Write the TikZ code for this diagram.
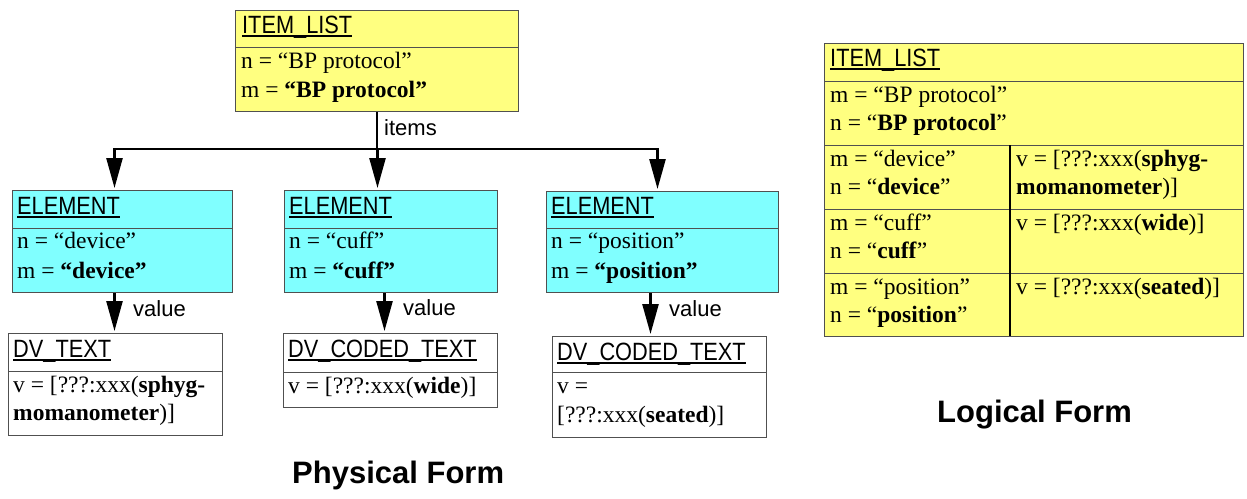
\documentclass[tikz,border=0pt]{standalone}
\usepackage{fontspec}
\setmainfont{Liberation Serif}
\newfontfamily\helv{Liberation Sans}
\newfontfamily\helvn[FakeStretch=0.87]{Liberation Sans}
\usetikzlibrary{arrows.meta}
\definecolor{ylw}{HTML}{FFFF80}
\definecolor{cyn}{HTML}{80FFFF}
\definecolor{edge}{HTML}{505050}
\tikzset{
  box/.style={draw=edge, line width=1pt, rectangle, inner sep=0pt, anchor=north west},
  ybox/.style={box, fill=ylw},
  cbox/.style={box, fill=cyn},
  wbox/.style={box, fill=white},
  divline/.style={draw=edge, line width=1pt},
  ttl/.style={anchor=base west, inner sep=0pt, font=\fontsize{25}{25}\helvn},
  txt/.style={anchor=base west, inner sep=0pt, font=\fontsize{23.5}{28}\selectfont},
  lbl/.style={anchor=base west, inner sep=0pt, font=\fontsize{22}{22}\helv},
  big/.style={anchor=base west, inner sep=0pt, font=\fontsize{31}{31}\helv\bfseries},
  arr/.style={line width=2.5pt, -{Triangle[length=30pt,width=16pt]}, shorten >=2pt},
  conn/.style={line width=2.5pt},
}
\newcommand{\ul}[1]{\setbox0\hbox{#1}\rlap{\rule[-4pt]{\wd0}{1.8pt}}\box0}
\begin{document}
\begin{tikzpicture}[x=1pt,y=-1pt]
\useasboundingbox (0,0) rectangle (1247,498);

% ---------- Physical form ----------
% ITEM_LIST
\node[ybox, minimum width=283pt, minimum height=101pt] (il) at (235,10) {};
\draw[divline] (235,47) -- (518,47);
\node[ttl] (ilt) at (242,33) {\ul{ITEM\_LIST}};
\node[txt] (iln) at (241,68) {n = “BP protocol”};
\node[txt] (ilm) at (241,97) {m = \textbf{“BP protocol”}};

% ELEMENTs
\node[cbox, minimum width=220pt, minimum height=102pt] (e1) at (12,190) {};
\draw[divline] (12,228) -- (232,228);
\node[ttl] (e1t) at (17,214) {\ul{ELEMENT}};
\node[txt] (e1n) at (17,248) {n = “device”};
\node[txt] (e1m) at (17,278) {m = \textbf{“device”}};

\node[cbox, minimum width=213pt, minimum height=102pt] (e2) at (284,190) {};
\draw[divline] (284,228) -- (497,228);
\node[ttl] (e2t) at (289,214) {\ul{ELEMENT}};
\node[txt] (e2n) at (289,248) {n = “cuff”};
\node[txt] (e2m) at (289,278) {m = \textbf{“cuff”}};

\node[cbox, minimum width=232pt, minimum height=101pt] (e3) at (546,191) {};
\draw[divline] (546,228) -- (778,228);
\node[ttl] (e3t) at (551,214) {\ul{ELEMENT}};
\node[txt] (e3n) at (551,248) {n = “position”};
\node[txt] (e3m) at (551,278) {m = \textbf{“position”}};

% DV boxes
\node[wbox, minimum width=214pt, minimum height=102pt] (d1) at (8,333) {};
\draw[divline] (8,371) -- (222,371);
\node[ttl] (d1t) at (13,357) {\ul{DV\_TEXT}};
\node[txt] (d1a) at (13,392) {v = [???:xxx(\textbf{sphyg-}};
\node[txt] (d1b) at (13,420) {\textbf{momanometer})]};

\node[wbox, minimum width=214pt, minimum height=74pt] (d2) at (283,333) {};
\draw[divline] (283,372) -- (497,372);
\node[ttl] (d2t) at (288,357) {\ul{DV\_CODED\_TEXT}};
\node[txt] (d2a) at (288,393) {v = [???:xxx(\textbf{wide})]};

\node[wbox, minimum width=214pt, minimum height=101pt] (d3) at (552,336) {};
\draw[divline] (552,372) -- (766,372);
\node[ttl] (d3t) at (557,360) {\ul{DV\_CODED\_TEXT}};
\node[txt] (d3a) at (557,393) {v =};
\node[txt] (d3b) at (557,422) {[???:xxx(\textbf{seated})]};

% connectors
\coordinate (bus) at (377,149);
\draw[conn] (il.south -| bus) -- (bus);
\draw[arr] (bus) -| ([xshift=-8pt]e1.north);
\draw[arr] (bus) -| ([xshift=-13.5pt]e2.north);
\draw[arr] (bus) -| ([xshift=-5pt]e3.north);
\node[lbl] (items) at (384,135) {items};

\draw[arr] ([xshift=-8pt]e1.south) -- ([xshift=-8pt]e1.south |- d1.north);
\draw[arr] ([xshift=-6.5pt]e2.south) -- ([xshift=-6.5pt]e2.south |- d2.north);
\draw[arr] ([xshift=-12pt]e3.south) -- ([xshift=-12pt]e3.south |- d3.north);
\node[lbl] (v1) at (133,316) {value};
\node[lbl] (v2) at (403,315) {value};
\node[lbl] (v3) at (669,316) {value};

\node[big] (pf) at (292,483) {Physical Form};

% ---------- Logical form ----------
\node[ybox, minimum width=419pt, minimum height=293pt] (lt) at (824,43) {};
\draw[divline] (824,81) -- (1243,81);
\draw[divline] (824,145) -- (1243,145);
\draw[divline] (824,209) -- (1243,209);
\draw[divline] (824,273) -- (1243,273);
\draw[line width=2pt] (1010,145) -- (1010,336);
\node[ttl] (ltt) at (830,66) {\ul{ITEM\_LIST}};
\node[txt] (lh1) at (830,102) {m = “BP protocol”};
\node[txt] (lh2) at (830,130) {n = “\textbf{BP protocol}”};
\node[txt] (l1a) at (830,166) {m = “device”};
\node[txt] (l1b) at (830,194) {n = “\textbf{device}”};
\node[txt] (l1c) at (1016,166) {v = [???:xxx(\textbf{sphyg-}};
\node[txt] (l1d) at (1016,194) {\textbf{momanometer})]};
\node[txt] (l2a) at (830,230) {m = “cuff”};
\node[txt] (l2b) at (830,258) {n = “\textbf{cuff}”};
\node[txt] (l2c) at (1016,230) {v = [???:xxx(\textbf{wide})]};
\node[txt] (l3a) at (830,294) {m = “position”};
\node[txt] (l3b) at (830,322) {n = “\textbf{position}”};
\node[txt] (l3c) at (1016,294) {v = [???:xxx(\textbf{seated})]};

\node[big] (lf) at (937,422) {Logical Form};
\end{tikzpicture}
\end{document}
